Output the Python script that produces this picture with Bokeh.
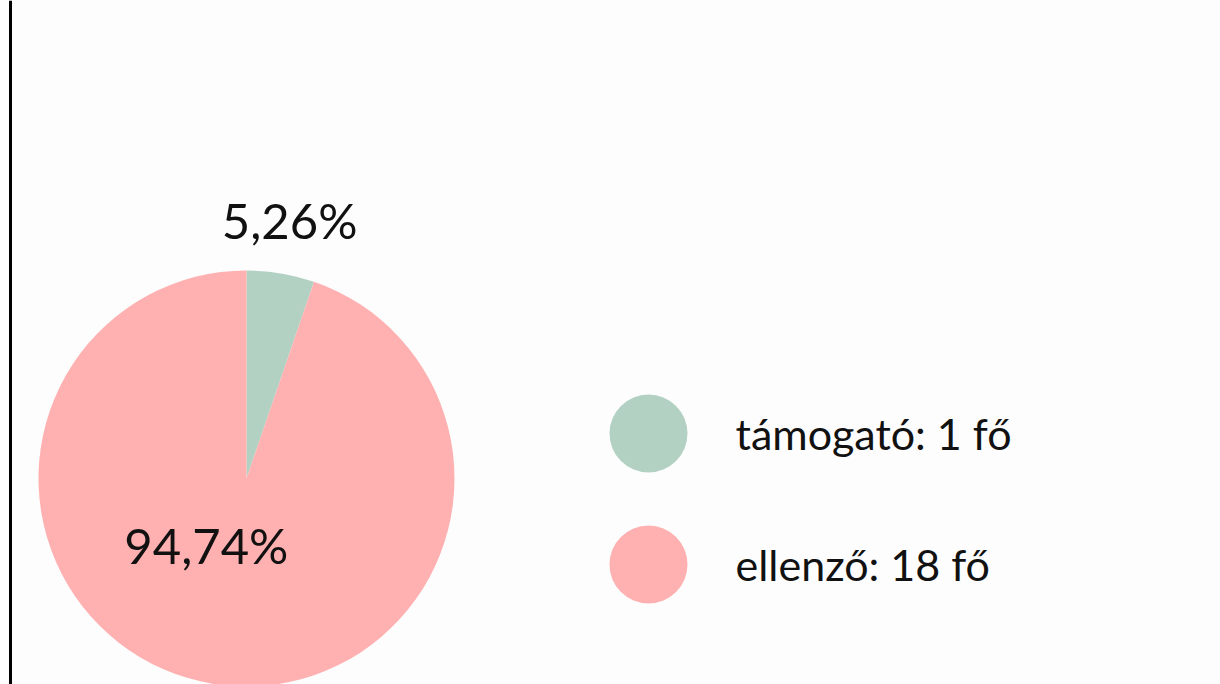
import math
from bokeh.plotting import figure
from bokeh.models import ColumnDataSource, Span
from bokeh.core.properties import value
from bokeh.embed import file_html
from bokeh.resources import INLINE

# ---- data ----
categories = ["támogató", "ellenző"]
counts = [1, 18]
percent_labels = ["5,26%", "94,74%"]
colors = ["#b3d1c3", "#ffb0b0"]

# ---- layout / style ----
W, H = 1220, 684
cx, cy, R = 246, 206, 208
label_pos = [(1.26, None), (0.375, 239.0)]  # radius factor, override angle (deg)

total = sum(counts)
starts, ends, lx, ly = [], [], [], []
a = math.pi / 2
for i, c in enumerate(counts):
    sweep = 2 * math.pi * c / total
    starts.append(a - sweep)
    ends.append(a)
    mid = a - sweep / 2
    f, ov = label_pos[i]
    ang = math.radians(ov) if ov is not None else mid
    lx.append(cx + f * R * math.cos(ang))
    ly.append(cy + f * R * math.sin(ang))
    a -= sweep

src = ColumnDataSource(dict(start=starts, end=ends, color=colors,
                            lx=lx, ly=ly, lab=percent_labels))

p = figure(width=W, height=H, x_range=(0, W), y_range=(0, H),
           output_backend="svg", toolbar_location=None,
           min_border=0, background_fill_color="#fdfdfd",
           border_fill_color="#fdfdfd")
p.axis.visible = False
p.grid.visible = False
p.outline_line_color = None

p.wedge(x=cx, y=cy, radius=R, start_angle="start", end_angle="end",
        fill_color="color", line_color=None, source=src)

p.text(x="lx", y="ly", text="lab", source=src, text_align="center",
       text_baseline="middle", text_font=value("Lato"), text_font_size="49px",
       text_color="#111111")

# legend
leg_x, leg_y0, leg_dy, leg_r = 648, 251, -131, 39
leg_labels = [f"{c}: {n} fő" for c, n in zip(categories, counts)]
leg_ys = [leg_y0 + i * leg_dy for i in range(len(categories))]
lsrc = ColumnDataSource(dict(y=leg_ys, color=colors, lab=leg_labels))
p.circle(x=leg_x, y="y", radius=leg_r, fill_color="color", line_color=None,
         source=lsrc)
p.text(x=leg_x + 87, y="y", text="lab", source=lsrc, text_align="left",
       text_baseline="middle", text_font=value("Lato"), text_font_size="43px",
       text_color="#111111")

p.add_layout(Span(location=10, dimension="height", line_color="black",
                  line_width=3))

open("out.html", "w").write(file_html(p, INLINE))
